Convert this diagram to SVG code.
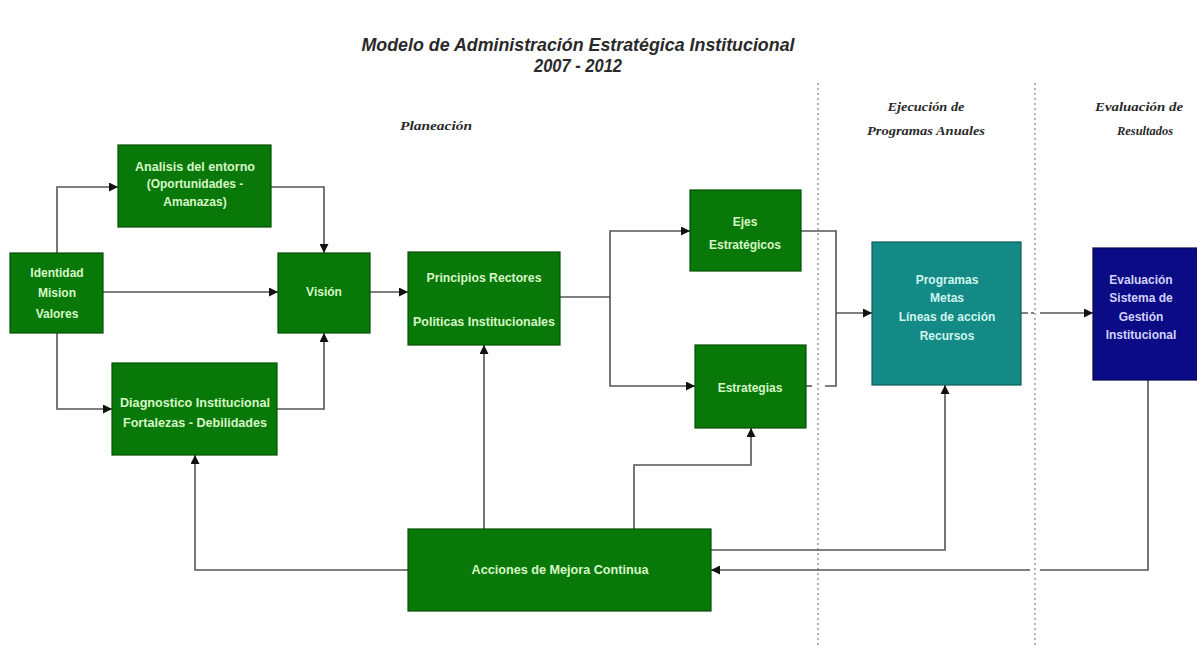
<svg xmlns="http://www.w3.org/2000/svg" width="1197" height="646" viewBox="0 0 1197 646">
<defs>
<marker id="ah" viewBox="0 0 10 10" refX="10" refY="5" markerWidth="9" markerHeight="9" markerUnits="userSpaceOnUse" orient="auto"><path d="M0,0 L10,5 L0,10 z" fill="#111"/></marker>
<style>
.g{fill:#087808;stroke:#045004;stroke-width:1.2}
.t{fill:#138a86;stroke:#0c5e5a;stroke-width:1.2}
.n{fill:#0b0b85;stroke:#050550;stroke-width:1.2}
.tx{font-family:"Liberation Sans",Arial,sans-serif;font-weight:bold;font-size:12px;text-anchor:middle;fill:#d6f7c6}
.tx2{font-family:"Liberation Sans",Arial,sans-serif;font-weight:bold;font-size:12px;text-anchor:middle;fill:#cff5ee}
.tx3{font-family:"Liberation Sans",Arial,sans-serif;font-weight:bold;font-size:12px;text-anchor:middle;fill:#d2d2ff}
.c{fill:none;stroke:#555;stroke-width:1.6}
.ca{fill:none;stroke:#555;stroke-width:1.6;marker-end:url(#ah)}
.sep{stroke:#8a8a8a;stroke-width:1.3;stroke-dasharray:2 3;fill:none}
.title{font-family:"Liberation Sans",Arial,sans-serif;font-weight:bold;font-style:italic;font-size:18px;text-anchor:middle;fill:#2a2a2a}
.sec{font-family:"Liberation Serif","Times New Roman",serif;font-style:italic;font-weight:bold;font-size:13px;text-anchor:middle;fill:#2a2a2a}
</style>
</defs>
<rect width="1197" height="646" fill="#fff"/>
<g id="titles">
<text class="title" x="578" y="51" textLength="433" lengthAdjust="spacingAndGlyphs">Modelo de Administración Estratégica Institucional</text>
<text class="title" x="578" y="72" textLength="88" lengthAdjust="spacingAndGlyphs">2007 - 2012</text>
<text class="sec" x="436" y="130" textLength="72" lengthAdjust="spacingAndGlyphs">Planeación</text>
<text class="sec" x="926" y="111" textLength="77" lengthAdjust="spacingAndGlyphs">Ejecución de</text>
<text class="sec" x="926" y="135" textLength="118" lengthAdjust="spacingAndGlyphs">Programas Anuales</text>
<text class="sec" x="1139" y="111" textLength="88" lengthAdjust="spacingAndGlyphs">Evaluación de</text>
<text class="sec" x="1145" y="135" textLength="56" lengthAdjust="spacingAndGlyphs">Resultados</text>
</g>
<g id="separators">
<line class="sep" x1="818" y1="83" x2="818" y2="646"/>
<line class="sep" x1="1035" y1="83" x2="1035" y2="646"/>
</g>
<g id="connectors">
<path class="ca" d="M57,253 V187 H118"/>
<path class="ca" d="M271,187 H324 V253"/>
<path class="ca" d="M103,292 H278"/>
<path class="ca" d="M57,333 V409 H112"/>
<path class="ca" d="M277,409 H324 V333"/>
<path class="ca" d="M370,292 H408"/>
<path class="ca" d="M560,297 H610 V231 H690"/>
<path class="ca" d="M610,297 V386 H695"/>
<path class="c" d="M801,231 H836 V386 H825"/>
<path class="c" d="M806,386 H812"/>
<path class="ca" d="M836,313 H872"/>
<path class="c" d="M1021,313 H1028 M1031,313 H1034"/>
<path class="ca" d="M1040,313 H1093"/>
<path class="c" d="M1148,380 V570 H1040"/>
<path class="ca" d="M1030,570 H711"/>
<path class="ca" d="M711,550 H945 V385"/>
<path class="ca" d="M484,529 V345"/>
<path class="ca" d="M634,529 V465 H751 V428"/>
<path class="ca" d="M408,570 H195 V455"/>
</g>
<g id="identidad">
<rect class="g" x="10" y="253" width="93" height="80"/>
<text class="tx" x="57" y="277">Identidad</text>
<text class="tx" x="57" y="297">Mision</text>
<text class="tx" x="57" y="318">Valores</text>
</g>
<g id="analisis">
<rect class="g" x="118" y="145" width="153" height="82"/>
<text class="tx" x="195" y="171" textLength="120" lengthAdjust="spacingAndGlyphs">Analisis del entorno</text>
<text class="tx" x="195" y="188">(Oportunidades -</text>
<text class="tx" x="195" y="206">Amanazas)</text>
</g>
<g id="vision">
<rect class="g" x="278" y="253" width="92" height="80"/>
<text class="tx" x="324" y="296">Visión</text>
</g>
<g id="diagnostico">
<rect class="g" x="112" y="363" width="165" height="92"/>
<text class="tx" x="195" y="407" textLength="150" lengthAdjust="spacingAndGlyphs">Diagnostico Institucional</text>
<text class="tx" x="195" y="427" textLength="144" lengthAdjust="spacingAndGlyphs">Fortalezas - Debilidades</text>
</g>
<g id="principios">
<rect class="g" x="408" y="252" width="152" height="93"/>
<text class="tx" x="484" y="282" textLength="115" lengthAdjust="spacingAndGlyphs">Principios Rectores</text>
<text class="tx" x="484" y="326" textLength="142" lengthAdjust="spacingAndGlyphs">Politicas Institucionales</text>
</g>
<g id="ejes">
<rect class="g" x="690" y="190" width="111" height="81"/>
<text class="tx" x="745" y="226">Ejes</text>
<text class="tx" x="745" y="249">Estratégicos</text>
</g>
<g id="estrategias">
<rect class="g" x="695" y="345" width="111" height="83"/>
<text class="tx" x="750" y="392">Estrategias</text>
</g>
<g id="programas">
<rect class="t" x="872" y="242" width="149" height="143"/>
<text class="tx2" x="947" y="284">Programas</text>
<text class="tx2" x="947" y="302">Metas</text>
<text class="tx2" x="947" y="321">Líneas de acción</text>
<text class="tx2" x="947" y="340">Recursos</text>
</g>
<g id="evaluacion">
<rect class="n" x="1093" y="248" width="110" height="132"/>
<text class="tx3" x="1141" y="284">Evaluación</text>
<text class="tx3" x="1141" y="302">Sistema de</text>
<text class="tx3" x="1141" y="321">Gestión</text>
<text class="tx3" x="1141" y="339">Institucional</text>
</g>
<g id="acciones">
<rect class="g" x="408" y="529" width="303" height="82"/>
<text class="tx" x="560" y="574" textLength="177" lengthAdjust="spacingAndGlyphs">Acciones de Mejora Continua</text>
</g>
</svg>
